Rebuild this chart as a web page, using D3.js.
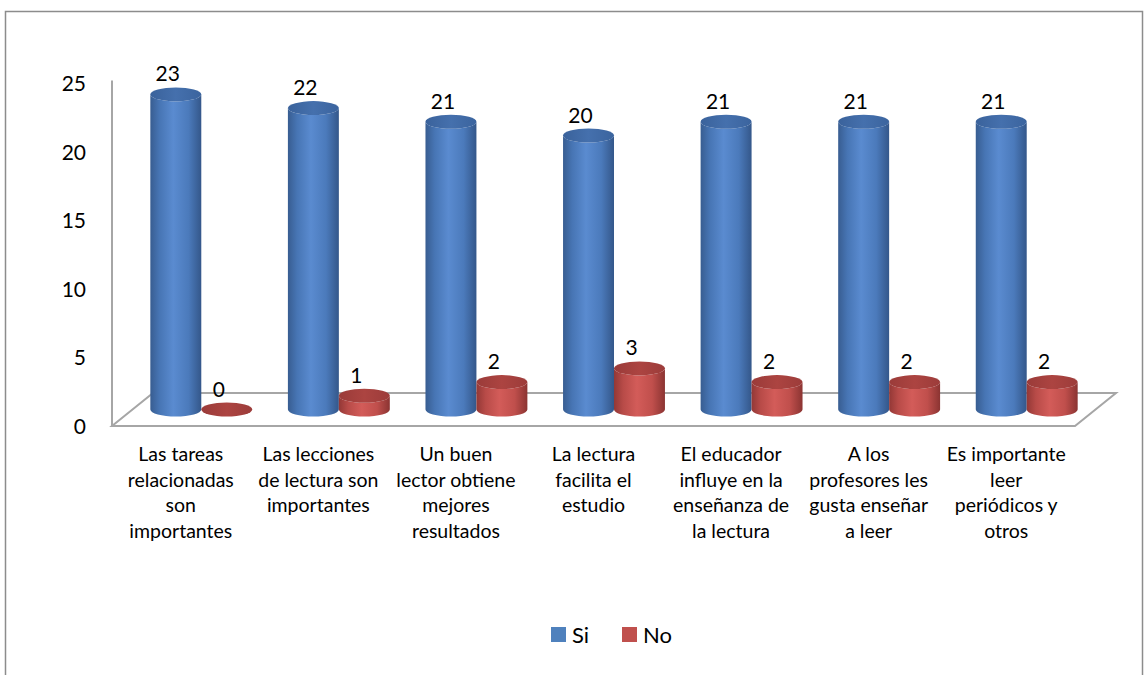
<!DOCTYPE html>
<html>
<head>
<meta charset="utf-8">
<script src="https://cdn.jsdelivr.net/npm/d3@7"></script>
<style>
  html, body { margin: 0; padding: 0; background: #fff; }
  svg { display: block; }
  text { font-family: Lato, "Noto Sans", sans-serif; fill: #000; }
</style>
</head>
<body>
<svg id="chart" width="1144" height="675"></svg>
<script>
// Categories (multi-line labels) and survey counts
const categories = [
  ["Las tareas", "relacionadas", "son", "importantes"],
  ["Las lecciones", "de lectura son", "importantes"],
  ["Un buen", "lector obtiene", "mejores", "resultados"],
  ["La lectura", "facilita el", "estudio"],
  ["El educador", "influye en la", "enseñanza de", "la lectura"],
  ["A los", "profesores les", "gusta enseñar", "a leer"],
  ["Es importante", "leer", "periódicos y", "otros"]
];
const seriesNames = ["Si", "No"];
const siValues = [23, 22, 21, 20, 21, 21, 21];
const noValues = [0, 1, 2, 3, 2, 2, 2];
const yTicks = [0, 5, 10, 15, 20, 25];

const svg = d3.select("#chart");

// chart frame
svg.append("rect")
  .attr("x", 5.5).attr("y", 11.5)
  .attr("width", 1137).attr("height", 700)
  .attr("fill", "none").attr("stroke", "#8c8c8c").attr("stroke-width", 1.5);

// plot geometry (front plane + depth offset for the 3D floor)
const x0 = 112, x1 = 1075;
const depthX = 41, depthY = -33;
const midX = depthX / 2, midY = depthY / 2;

const keys = categories.map((c, i) => i);
const x = d3.scaleBand().domain(keys).range([x0, x1]).padding(0);
const sub = d3.scaleBand().domain(seriesNames).range([0, x.bandwidth()])
  .paddingInner(0).paddingOuter(0.35);
const y = d3.scaleLinear().domain([0, 25]).range([426, 83.5]);

const defs = svg.append("defs");
function hGrad(id, stops) {
  const g = defs.append("linearGradient").attr("id", id)
    .attr("x1", "0%").attr("x2", "100%").attr("y1", "0%").attr("y2", "0%");
  stops.forEach(([o, c]) => g.append("stop").attr("offset", o).attr("stop-color", c));
}
hGrad("bodySi", [["0%", "#385d91"], ["18%", "#4775b4"], ["45%", "#5a8bd0"], ["75%", "#4b7abb"], ["100%", "#34578a"]]);
hGrad("topSi", [["0%", "#3a629b"], ["50%", "#4570ad"], ["100%", "#3b649e"]]);
hGrad("bodyNo", [["0%", "#933836"], ["18%", "#b84b48"], ["45%", "#d35c59"], ["75%", "#c04f4c"], ["100%", "#8b3432"]]);
hGrad("topNo", [["0%", "#9a3b39"], ["50%", "#ac4441"], ["100%", "#9c3c3a"]]);

// floor
const floorPts = [[x0, y(0)], [x1, y(0)], [x1 + depthX, y(0) + depthY], [x0 + depthX, y(0) + depthY]];
svg.append("path")
  .attr("d", d3.line()(floorPts) + "Z")
  .attr("fill", "none").attr("stroke", "#a6a6a6").attr("stroke-width", 2)
  .attr("stroke-linejoin", "miter");

// value axis line
svg.append("line")
  .attr("x1", x0).attr("x2", x0)
  .attr("y1", y(25) - 3).attr("y2", y(0))
  .attr("stroke", "#a6a6a6").attr("stroke-width", 2);

// value axis labels
svg.append("g").selectAll("text").data(yTicks).join("text")
  .attr("x", 86).attr("y", d => y(d) + 7.5)
  .attr("text-anchor", "end").attr("font-size", 21)
  .text(d => d);

// cylinders
const rx = sub.bandwidth() / 2, ry = 7;
const bars = [];
keys.forEach(i => {
  bars.push({ i, s: "Si", v: siValues[i] });
  bars.push({ i, s: "No", v: noValues[i] });
});

const g = svg.append("g");
bars.forEach(b => {
  const cx = x(b.i) + sub(b.s) + rx + midX;
  const yb = y(0) + midY;
  const yt = y(b.v) + midY;
  const id = b.s === "Si" ? "Si" : "No";
  if (b.v > 0) {
    g.append("path")
      .attr("d", `M${cx - rx},${yt} L${cx - rx},${yb} A${rx},${ry} 0 0 0 ${cx + rx},${yb} L${cx + rx},${yt} A${rx},${ry} 0 0 1 ${cx - rx},${yt} Z`)
      .attr("fill", `url(#body${id})`);
  }
  g.append("ellipse")
    .attr("cx", cx).attr("cy", yt).attr("rx", rx).attr("ry", ry)
    .attr("fill", `url(#top${id})`);
  b.cx = cx; b.yt = yt;
});

// value labels
svg.append("g").selectAll("text").data(bars).join("text")
  .attr("x", d => d.cx - 8).attr("y", d => d.yt - 13)
  .attr("text-anchor", "middle").attr("font-size", 21)
  .text(d => d.v);

// category labels
const cat = svg.append("g").selectAll("text").data(categories).join("text")
  .attr("text-anchor", "middle").attr("font-size", 19.5)
  .attr("transform", (d, i) => `translate(${x(i) + x.bandwidth() / 2},461)`);
cat.selectAll("tspan").data(d => d).join("tspan")
  .attr("x", 0).attr("y", (d, j) => j * 25.5)
  .text(d => d);

// legend
const colors = { Si: "#4f81bd", No: "#c0504d" };
const legendX = [551, 622];
const lg = svg.append("g").selectAll("g").data(seriesNames).join("g")
  .attr("transform", (d, i) => `translate(${legendX[i]},627)`);
lg.append("rect").attr("width", 15).attr("height", 15).attr("fill", d => colors[d]);
lg.append("text").attr("x", 21).attr("y", 15.5).attr("font-size", 22).text(d => d);
</script>
</body>
</html>
